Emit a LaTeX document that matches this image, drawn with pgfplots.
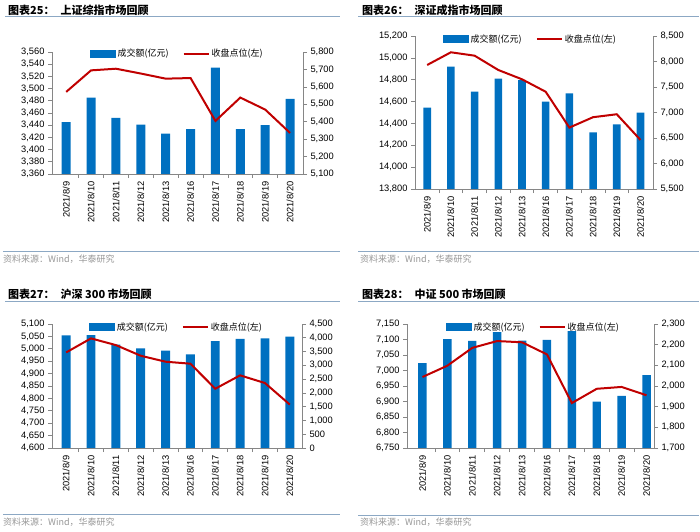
\documentclass[border=0pt]{standalone}
\usepackage{fontspec}
\setmainfont{Liberation Sans}
\newfontfamily\cjk{Noto Sans CJK SC}
\usepackage{pgfplots}
\pgfplotsset{compat=1.18}
\definecolor{barblue}{RGB}{0,112,192}
\definecolor{linered}{RGB}{192,0,0}
\definecolor{axgray}{RGB}{134,134,134}
\definecolor{rulecol}{RGB}{140,168,196}
\definecolor{srcgray}{RGB}{150,150,150}
\pgfplotsset{
  common/.style={scale only axis, anchor=south west,
    tick align=outside, major tick length=4pt,
    scaled y ticks=false,
    axis line style={draw=axgray, line width=0.7pt},
    every tick/.style={draw=axgray, line width=0.7pt},
    /pgf/number format/assume math mode=true,
    /pgf/number format/1000 sep={,},
    yticklabel style={font=\fontsize{9.3}{10}\selectfont},
    xticklabel style={font=\fontsize{9.3}{10}\selectfont, rotate=90, anchor=east},
  },
  baraxis/.style={common, axis x line*=bottom, axis y line*=right,
    xtick={0.5,1.5,...,8.5}, xticklabels={},
    ybar, bar width=#1},
  lineaxis/.style={common, axis x line*=bottom, axis y line*=left,
    xtick={0,...,9}, xtick style={draw=none},
    xticklabels={2021/8/9,2021/8/10,2021/8/11,2021/8/12,2021/8/13,2021/8/16,2021/8/17,2021/8/18,2021/8/19,2021/8/20},
    legend style={draw=none, fill=none, inner sep=0pt, anchor=west, legend columns=2,
      font=\cjk\fontsize{9}{10}\selectfont,
      /tikz/every even column/.append style={column sep=12pt}},
  },
  barleg/.style={legend image code/.code={\fill[barblue] (0pt,-3.5pt) rectangle (25pt,3.5pt);}},
  lineleg/.style={legend image code/.code={\draw[linered, line width=2pt] (0pt,0pt)--(25pt,0pt);}},
}
\newcommand\ptitle[3]{%
  \node[anchor=west, inner sep=0pt, font=\cjk\bfseries\fontsize{11}{12}\selectfont] at (#1,#2) {#3};}
\newcommand\psource[2]{%
  \node[anchor=west, inner sep=0pt, text=srcgray, font=\cjk\fontsize{9}{10}\selectfont] at (#1,#2) {资料来源：Wind，华泰研究};}
\begin{document}
\begin{tikzpicture}[x=1pt,y=1pt]
\path[use as bounding box] (0,0) rectangle (700,531);
% ---------- Panel 1 ----------
\ptitle{8}{521}{图表25：\hspace{6pt}上证综指市场回顾}
\draw[rulecol, line width=0.8pt] (5,515) -- (340,515);
\draw[rulecol, line width=0.8pt] (3,280) -- (340,280);
\psource{3}{272}
\begin{axis}[baraxis=0.36, at={(52pt,357pt)}, width=251pt, height=122pt,
  xmin=-0.57, xmax=9.52, ymin=5100, ymax=5800, ytick={5100,5200,...,5800}]
\addplot[fill=barblue, draw=none] coordinates {(0,5398)(1,5538)(2,5422)(3,5384)(4,5331)(5,5358)(6,5710)(7,5358)(8,5381)(9,5531)};
\end{axis}
\begin{axis}[lineaxis, at={(52pt,357pt)}, width=251pt, height=122pt,
  xmin=-0.57, xmax=9.52, ymin=3360, ymax=3560, ytick={3360,3380,...,3560},
  legend style={at={(0.151,0.985)}}]
\addlegendimage{barleg}
\addlegendentry{成交额(亿元)}
\addplot[linered, line width=2pt, mark=none, lineleg] coordinates {(0,3494.6)(1,3529.9)(2,3532.6)(3,3524.7)(4,3516.3)(5,3517.3)(6,3447.0)(7,3485.3)(8,3465.6)(9,3427.3)};
\addlegendentry{收盘点位(左)}
\end{axis}
% ---------- Panel 2 ----------
\ptitle{362}{521}{图表26：\hspace{6pt}深证成指市场回顾}
\draw[rulecol, line width=0.8pt] (358,515) -- (699,515);
\draw[rulecol, line width=0.8pt] (358,280) -- (699,280);
\psource{360}{272}
\begin{axis}[baraxis=0.32, at={(415pt,342pt)}, width=238pt, height=153pt,
  xmin=-0.515, xmax=9.53, ymin=5500, ymax=8500, ytick={5500,6000,...,8500}]
\addplot[fill=barblue, draw=none] coordinates {(0,7095)(1,7898)(2,7408)(3,7663)(4,7637)(5,7212)(6,7376)(7,6610)(8,6769)(9,6997)};
\end{axis}
\begin{axis}[lineaxis, at={(415pt,342pt)}, width=238pt, height=153pt,
  xmin=-0.515, xmax=9.53, ymin=13800, ymax=15200, ytick={13800,14000,...,15200},
  legend style={at={(0.118,0.98)}}]
\addlegendimage{barleg}
\addlegendentry{成交额(亿元)}
\addplot[linered, line width=2pt, mark=none, lineleg] coordinates {(0,14935)(1,15051)(2,15020)(3,14889)(4,14804)(5,14690)(6,14362)(7,14457)(8,14484)(9,14249)};
\addlegendentry{收盘点位(左)}
\end{axis}
% ---------- Panel 3 ----------
\ptitle{8}{237}{图表27：\hspace{6pt}沪深 300 市场回顾}
\draw[rulecol, line width=0.8pt] (5,229.5) -- (340,229.5);
\draw[rulecol, line width=0.8pt] (3,16.5) -- (340,16.5);
\psource{3}{9}
\begin{axis}[baraxis=0.36, at={(52pt,83pt)}, width=250pt, height=124pt,
  xmin=-0.57, xmax=9.49, ymin=0, ymax=4500, ytick={0,500,...,4500}]
\addplot[fill=barblue, draw=none] coordinates {(0,4087)(1,4100)(2,3749)(3,3615)(4,3531)(5,3397)(6,3883)(7,3956)(8,3978)(9,4039)};
\end{axis}
\begin{axis}[lineaxis, at={(52pt,83pt)}, width=250pt, height=124pt,
  xmin=-0.57, xmax=9.49, ymin=4600, ymax=5100, ytick={4600,4650,...,5100},
  legend style={at={(0.149,0.975)}}]
\addlegendimage{barleg}
\addlegendentry{成交额(亿元)}
\addplot[linered, line width=2pt, mark=none, lineleg] coordinates {(0,4985.5)(1,5042)(2,5015)(3,4972)(4,4948)(5,4940)(6,4839)(7,4893)(8,4862)(9,4775)};
\addlegendentry{收盘点位(左)}
\end{axis}
% ---------- Panel 4 ----------
\ptitle{362}{237}{图表28：\hspace{6pt}中证 500 市场回顾}
\draw[rulecol, line width=0.8pt] (358,229.5) -- (699,229.5);
\draw[rulecol, line width=0.8pt] (358,16) -- (699,16);
\psource{360}{8.5}
\begin{axis}[baraxis=0.34, at={(407pt,83pt)}, width=247pt, height=124pt,
  xmin=-0.62, xmax=9.3, ymin=1700, ymax=2300, ytick={1700,1800,...,2300}]
\addplot[fill=barblue, draw=none] coordinates {(0,2111)(1,2227)(2,2218)(3,2261)(4,2219)(5,2223)(6,2266)(7,1924)(8,1952)(9,2053)};
\end{axis}
\begin{axis}[lineaxis, at={(407pt,83pt)}, width=247pt, height=124pt,
  xmin=-0.62, xmax=9.3, ymin=6750, ymax=7150, ytick={6750,6800,...,7150},
  legend style={at={(0.158,0.975)}}]
\addlegendimage{barleg}
\addlegendentry{成交额(亿元)}
\addplot[linered, line width=2pt, mark=none, lineleg] coordinates {(0,6979)(1,7015.5)(2,7073)(3,7095)(4,7091)(5,7052)(6,6895)(7,6941)(8,6947)(9,6920)};
\addlegendentry{收盘点位(左)}
\end{axis}
\end{tikzpicture}
\end{document}
